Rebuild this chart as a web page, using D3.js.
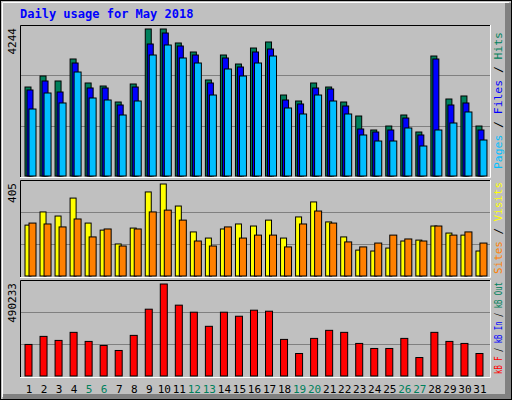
<!DOCTYPE html>
<html><head><meta charset="utf-8">
<script src="https://cdn.jsdelivr.net/npm/d3@7"></script>
<style>body{margin:0;background:#fff}svg{display:block}</style>
</head><body>
<svg id="chart" width="512" height="400"></svg>
<script>
// Daily usage data, May 2018
const days = d3.range(1, 32);
const weekends = [5, 6, 12, 13, 19, 20, 26, 27];
const hits = [2569,2887,2743,3378,2685,2598,2136,2656,4244,4244,3840,3580,2772,3493,3233,3695,3869,2338,2165,2685,2569,2136,1732,1328,1443,1761,1270,3464,2223,2310,1443];
const files = [2483,2743,2425,3262,2541,2541,2050,2569,3811,4128,3753,3493,2685,3407,3147,3580,3666,2194,2079,2541,2512,2021,1357,1270,1328,1674,1184,3378,2050,2108,1328];
const pages = [1934,2396,2108,3002,2252,2194,1761,2165,3493,3782,3407,3262,2338,3089,2887,3262,3464,1963,1790,2338,2165,1790,1184,1010,1010,1386,866,1328,1530,1848,1039];
const visits = [224,282,264,343,233,202,141,211,370,405,308,194,167,207,229,220,246,167,260,326,238,172,114,110,123,154,158,220,189,180,110];
const sites = [233,229,216,251,172,207,132,207,282,290,246,154,132,216,167,180,180,128,229,286,233,150,128,145,180,163,154,220,180,194,145];
const kbytes = [168166,211102,189634,232570,184267,162799,135964,216469,356011,490233,377479,339910,264772,339910,318442,350644,345277,195001,119863,200368,243304,232570,173533,146698,146698,200368,98395,232570,184267,173533,119863];

const svg = d3.select('#chart');
const font = '"DejaVu Sans Mono", monospace';
const left = 20, right = 490;

// background and outer frame
svg.append('rect').attr('width', 512).attr('height', 400).attr('fill', '#c0c0c0');
svg.append('rect').attr('x', 505).attr('y', 3).attr('width', 6).attr('height', 396).attr('fill', '#808080');
svg.append('rect').attr('x', 3).attr('y', 394).attr('width', 508).attr('height', 5).attr('fill', '#808080');
svg.append('rect').attr('x', 0.5).attr('y', 0.5).attr('width', 511).attr('height', 399).attr('fill', 'none').attr('stroke', '#000');
svg.append('path').attr('d', 'M2.5,397V2.5H509').attr('fill', 'none').attr('stroke', '#fff');

svg.append('text').attr('x', 20).attr('y', 18).attr('font-family', font).attr('font-weight', 'bold')
  .attr('font-size', 12).attr('fill', '#0000ff').text('Daily usage for May 2018');

const x = d3.scaleBand().domain(days).range([left + 2, right - 2]).paddingInner(0);

function panel(top, bottom, max, series, label, labelParts, labelLen) {
  const y = d3.scaleLinear().domain([0, max]).range([bottom, top + 4]);
  const g = svg.append('g');
  g.append('rect').attr('x', left).attr('y', top).attr('width', right - left).attr('height', bottom - top).attr('fill', '#c0c0c0');
  [1, 2].forEach(i => {
    const gy = Math.round(top + (bottom - top) * i / 3) + 0.5;
    g.append('line').attr('x1', left).attr('x2', right).attr('y1', gy).attr('y2', gy).attr('stroke', '#808080');
  });
  series.forEach(s => {
    g.selectAll(null).data(s.values).join('rect')
      .attr('x', (d, i) => x(days[i]) + 3 + s.off)
      .attr('y', d => y(d))
      .attr('width', s.w)
      .attr('height', d => bottom - y(d))
      .attr('fill', s.color).attr('stroke', '#000').attr('stroke-width', 1);
  });
  g.append('path').attr('d', `M${left + 0.5},${bottom + 1}V${top + 0.5}H${right}`).attr('fill', 'none').attr('stroke', '#000');
  g.append('path').attr('d', `M${left},${bottom + 1.5}H${right + 0.5}V${top}`).attr('fill', 'none').attr('stroke', '#fff');
  g.append('text').attr('transform', `translate(16,${top + 3}) rotate(-90)`).attr('text-anchor', 'end')
    .attr('font-family', font).attr('font-size', 11).attr('fill', '#000').text(label);
  const t = g.append('text').attr('transform', `translate(502,${(top + bottom) / 2}) rotate(-90)`).attr('text-anchor', 'middle')
    .attr('font-family', font).attr('font-size', 10)
    .attr('textLength', labelLen).attr('lengthAdjust', 'spacingAndGlyphs');
  labelParts.forEach(p => t.append('tspan').attr('fill', p[1]).text(p[0]));
}

panel(25, 176, 4244, [
  { values: hits, color: '#00805c', off: 0, w: 6 },
  { values: files, color: '#0000ff', off: 2, w: 6 },
  { values: pages, color: '#00bfff', off: 4, w: 7 }
], '4244', [['Pages', '#00bfff'], [' / ', '#000'], ['Files', '#0000ff'], [' / ', '#000'], ['Hits', '#00805c']], 137);

panel(180, 276, 405, [
  { values: visits, color: '#ffff00', off: 0, w: 6 },
  { values: sites, color: '#ff8000', off: 4, w: 7 }
], '405', [['Sites', '#ff8000'], [' / ', '#000'], ['Visits', '#ffff00']], 92);

panel(280, 376, 490233, [
  { values: kbytes, color: '#ff0000', off: 0, w: 7 }
], '490233', [['kB F', '#ff0000'], [' / ', '#000'], ['kB In', '#0000ff'], [' / ', '#000'], ['kB Out', '#00805c']], 92);

svg.selectAll('.day').data(days).join('text')
  .attr('x', d => x(d) + 7).attr('y', 393).attr('text-anchor', 'middle')
  .attr('font-family', font).attr('font-size', 11)
  .attr('fill', d => weekends.includes(d) ? '#00805c' : '#000').text(d => d);
</script>
</body></html>
